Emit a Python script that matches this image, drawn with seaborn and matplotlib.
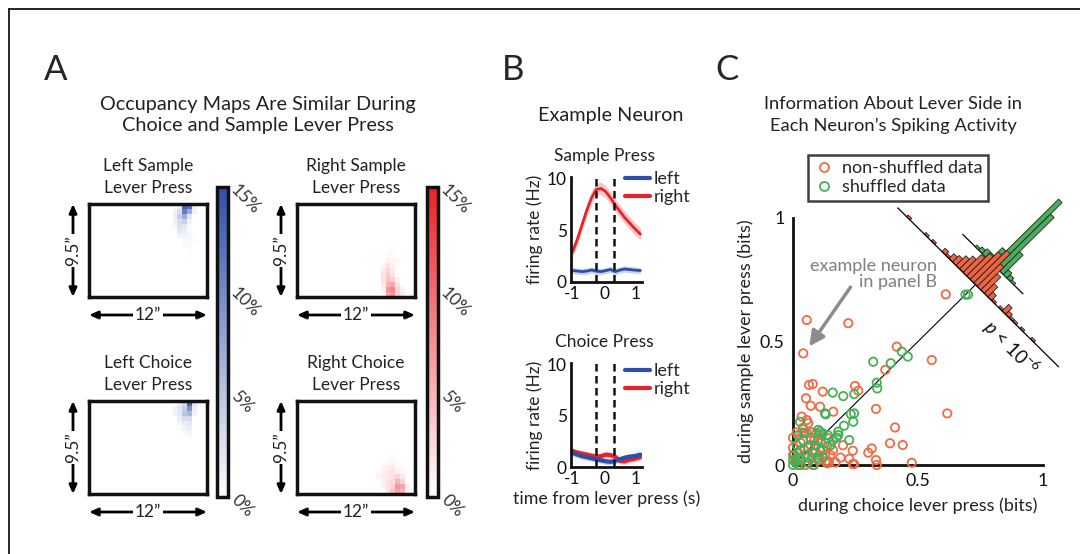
import numpy as np
import matplotlib
matplotlib.use("Agg")
import matplotlib.pyplot as plt
import seaborn as sns
from matplotlib.colors import LinearSegmentedColormap
from matplotlib.lines import Line2D
from matplotlib.transforms import Affine2D

# ---- Panel A: occupancy maps (row, col, % occupancy), grid 19 x 24 ----
n_rows, n_cols = 19, 24
left_sample_cells = [
    (0, 18, 1), (0, 19, 13), (0, 20, 12), (0, 21, 1.5),
    (1, 17, 1), (1, 18, 3), (1, 19, 11), (1, 20, 7), (1, 21, 1),
    (2, 17, 1.5), (2, 18, 4), (2, 19, 7), (2, 20, 2),
    (3, 17, 1), (3, 18, 3), (3, 19, 4), (3, 20, 1),
    (4, 17, 0.8), (4, 18, 2.5), (4, 19, 2), (4, 20, 0.5),
    (5, 18, 2), (5, 19, 1.5), (5, 20, 0.5),
    (6, 18, 1), (6, 19, 1), (6, 20, 0.8),
    (7, 19, 0.5), (7, 20, 0.5), (7, 21, 0.4),
    (8, 19, 0.4), (8, 20, 0.4), (9, 20, 0.3), (10, 20, 0.3),
]
right_sample_cells = [
    (18, 18, 6), (18, 19, 7), (18, 20, 3), (18, 21, 1.5),
    (17, 17, 1), (17, 18, 7), (17, 19, 8), (17, 20, 3), (17, 21, 1),
    (16, 17, 1.5), (16, 18, 5), (16, 19, 6), (16, 20, 2),
    (15, 17, 2), (15, 18, 4), (15, 19, 3), (15, 20, 1),
    (14, 17, 2), (14, 18, 3.5), (14, 19, 2), (14, 20, 0.5),
    (13, 17, 1.5), (13, 18, 3), (13, 19, 1.5),
    (12, 17, 0.8), (12, 18, 2), (12, 19, 1),
    (11, 18, 1), (11, 19, 0.8), (11, 20, 0.5),
    (10, 18, 0.5), (10, 19, 0.5), (9, 19, 0.3),
]
left_choice_cells = [
    (0, 18, 1.5), (0, 19, 3), (0, 20, 13), (0, 21, 2),
    (1, 17, 1), (1, 18, 2), (1, 19, 4), (1, 20, 9), (1, 21, 1.5),
    (2, 17, 1), (2, 18, 2), (2, 19, 5), (2, 20, 6), (2, 21, 1),
    (3, 18, 1.5), (3, 19, 3), (3, 20, 3),
    (4, 18, 1), (4, 19, 1.5), (4, 20, 2),
    (5, 19, 1), (5, 20, 1.5), (6, 19, 0.5), (6, 20, 0.8), (7, 20, 0.4),
]
right_choice_cells = [
    (18, 18, 1.5), (18, 19, 4), (18, 20, 6), (18, 21, 5), (18, 22, 1),
    (17, 17, 1), (17, 18, 2), (17, 19, 3), (17, 20, 7), (17, 21, 6), (17, 22, 1),
    (16, 17, 1), (16, 18, 2), (16, 19, 2.5), (16, 20, 5), (16, 21, 3),
    (15, 16, 0.8), (15, 17, 1), (15, 18, 1.5), (15, 19, 2), (15, 20, 3), (15, 21, 1.5),
    (14, 16, 0.5), (14, 17, 1), (14, 18, 1.5), (14, 19, 2), (14, 20, 1), (14, 21, 0.8), (14, 22, 0.5),
    (13, 17, 0.8), (13, 18, 1), (13, 19, 1.5), (13, 20, 0.5), (13, 21, 0.5),
    (12, 18, 0.5), (12, 19, 0.8), (12, 20, 0.5), (11, 19, 0.4),
]
cbar_ticks = [0, 5, 10, 15]
cbar_labels = ["0%", "5%", "10%", "15%"]

# ---- Panel B: example neuron firing rates ----
t = [-1.0, -0.85, -0.7, -0.55, -0.4, -0.25, -0.1, 0.05, 0.2, 0.35, 0.5, 0.65, 0.8, 0.95, 1.15]
right_sample = [2.9, 4.1, 5.5, 6.9, 8.1, 8.9, 9.0, 8.7, 8.1, 7.4, 6.8, 6.2, 5.7, 5.2, 4.6]
left_sample = [1.1, 1.05, 1.0, 1.05, 1.15, 1.05, 1.0, 1.1, 1.2, 1.0, 1.15, 1.25, 1.2, 1.15, 1.1]
left_choice = [1.35, 1.2, 1.05, 0.95, 0.85, 0.75, 0.65, 0.55, 0.5, 0.6, 0.75, 0.9, 1.0, 1.05, 1.2]
right_choice = [1.55, 1.4, 1.3, 1.2, 1.1, 1.0, 1.05, 1.2, 1.15, 1.0, 0.6, 0.55, 0.7, 0.8, 0.95]
sem_right_sample = 0.6
sem_other = 0.3
event_times = [-0.25, 0.3]

# ---- Panel C: information (bits) ----
red_x = [0.055, 0.041, 0.221, 0.611, 0.415, 0.555, 0.369, 0.248, 0.261, 0.064, 0.079, 0.119,
         0.052, 0.071, 0.108, 0.161, 0.332, 0.617, 0.035, 0.055, 0.408, 0.061,
         0.015, 0.035, 0.055, 0.075, 0.093, 0.388, 0.439, 0.315, 0.301, 0.239, 0.332, 0.335,
         0.475, 0.239, 0.244, 0.144, 0.135, 0.141, 0.128,
         0.01, 0.02, 0.03, 0.0, 0.045, 0.06, 0.07, 0.09, 0.1, 0.11, 0.12, 0.08, 0.05, 0.02,
         0.0, 0.0, 0.15, 0.17, 0.1, 0.04, 0.085, 0.13, 0.16, 0.19, 0.2, 0.225, 0.104, 0.137]
red_y = [0.587, 0.452, 0.574, 0.691, 0.479, 0.425, 0.385, 0.320, 0.301, 0.324, 0.328, 0.297,
         0.270, 0.240, 0.236, 0.216, 0.227, 0.209, 0.196, 0.182, 0.152, 0.169,
         0.132, 0.132, 0.128, 0.132, 0.128, 0.088, 0.081, 0.067, 0.050, 0.058, 0.020, 0.0,
         0.009, 0.004, 0.004, 0.013, 0.074, 0.108, 0.040,
         0.02, 0.05, 0.09, 0.11, 0.06, 0.03, 0.08, 0.05, 0.02, 0.09, 0.06, 0.0, 0.0, 0.0,
         0.04, 0.07, 0.04, 0.01, 0.12, 0.15, 0.1, 0.015, 0.06, 0.03, 0.08, 0.025, 0.04, 0.007]
green_x = [0.69, 0.70, 0.435, 0.459, 0.321, 0.391, 0.335, 0.337, 0.159, 0.201, 0.245, 0.128,
           0.131, 0.231, 0.244, 0.241, 0.204, 0.181, 0.181, 0.175, 0.225, 0.028, 0.101, 0.108,
           0.119, 0.084,
           0.01, 0.02, 0.03, 0.015, 0.04, 0.05, 0.06, 0.07, 0.08, 0.09, 0.1, 0.11, 0.12, 0.13,
           0.14, 0.0, 0.005, 0.03, 0.06, 0.1, 0.15, 0.16, 0.02, 0.045, 0.0, 0.035, 0.075]
green_y = [0.69, 0.69, 0.459, 0.439, 0.418, 0.412, 0.333, 0.310, 0.293, 0.279, 0.287, 0.209,
           0.205, 0.206, 0.209, 0.175, 0.159, 0.135, 0.121, 0.111, 0.101, 0.175, 0.142, 0.135,
           0.128, 0.0,
           0.01, 0.03, 0.06, 0.08, 0.1, 0.04, 0.07, 0.11, 0.05, 0.08, 0.1, 0.06, 0.03, 0.09,
           0.12, 0.0, 0.04, 0.0, 0.01, 0.03, 0.08, 0.1, 0.12, 0.13, 0.02, 0.02, 0.03]

# rotated histograms along the anti-diagonal
hist_bin_centers = [round(k * 0.02, 2) for k in range(-22, 24)]
red_counts = [0, 0, 0, 1, 0, 0, 0, 0, 1, 0, 1, 0, 0, 2, 1, 3, 4, 6, 8, 11, 14, 17, 20,
              14, 10, 6, 3, 1, 0, 1, 4, 2, 1, 1, 0, 1, 0, 0, 1, 0, 0, 0, 0, 0, 0, 0]
green_counts = [0] * 17 + [1, 2, 3, 3, 8, 40, 33, 12, 3, 2, 1] + [0] * 18

blue = "#2f4ea7"
red = "#e8222a"
dot_red = "#f26a44"
dot_green = "#45b058"
hist_red = "#ef6440"
hist_green = "#4cae5c"

sns.set_style("white")
plt.rcParams["font.family"] = ["Lato", "DejaVu Sans"]
plt.rcParams["mathtext.fontset"] = "custom"
plt.rcParams["mathtext.it"] = "Lato:italic"
plt.rcParams["mathtext.rm"] = "Lato"
plt.rcParams["axes.unicode_minus"] = False

W, H = 1080, 554
fig = plt.figure(figsize=(10.8, 5.54), dpi=100)


def box(x0, y0, x1, y1):
    return fig.add_axes([x0 / W, 1 - y1 / H, (x1 - x0) / W, (y1 - y0) / H])


def ftext(x, y, s, **kw):
    fig.text(x / W, 1 - y / H, s, **kw)


# border
fig.add_artist(Line2D([9 / W, 1], [1 - 9 / H] * 2, color="k", lw=1.2))
fig.add_artist(Line2D([9 / W] * 2, [0, 1 - 9 / H], color="k", lw=1.2))

# ================= Panel A =================
cm_blue = LinearSegmentedColormap.from_list("bl", ["#ffffff", blue])
cm_red = LinearSegmentedColormap.from_list("rd", ["#ffffff", red])
cax_blue = box(217, 187, 228, 497)
cax_red = box(427, 187, 438, 497)

panels = [
    (left_sample_cells, cm_blue, (89, 204, 207, 297), cax_blue, "Left Sample\nLever Press"),
    (right_sample_cells, cm_red, (297, 204, 415, 297), cax_red, "Right Sample\nLever Press"),
    (left_choice_cells, cm_blue, (89, 401, 207, 494), None, "Left Choice\nLever Press"),
    (right_choice_cells, cm_red, (297, 401, 415, 494), None, "Right Choice\nLever Press"),
]
for cells, cmap, (x0, y0, x1, y1), cax, title in panels:
    grid = np.zeros((n_rows, n_cols))
    for r, c, v in cells:
        grid[r, c] = v
    ax = box(x0, y0, x1, y1)
    sns.heatmap(grid, ax=ax, cmap=cmap, vmin=0, vmax=15, cbar=cax is not None,
                cbar_ax=cax, xticklabels=False, yticklabels=False)
    for s in ax.spines.values():
        s.set_visible(True)
        s.set_linewidth(2.5)
        s.set_color("#111111")
    ax.set_xticks([])
    ax.set_yticks([])
    if cax is not None:
        cb = ax.collections[0].colorbar
        cb.outline.set_linewidth(2.5)
        cb.outline.set_edgecolor("#111111")
        cax.set_yticks(cbar_ticks)
        cax.set_yticklabels(cbar_labels, rotation=-45, rotation_mode="anchor",
                            ha="left", va="center", fontsize=12.5, color="#333333")
        cax.tick_params(axis="y", direction="in", length=3, width=1.5, pad=4)
    cx = (x0 + x1) / 2
    ftext(cx, y0 - 27, title, ha="center", va="center", fontsize=12.5,
          linespacing=1.45, color="#222222")

# overlay in pixel coordinates for dimension arrows
ov = fig.add_axes([0, 0, 1, 1])
ov.set_xlim(0, W)
ov.set_ylim(H, 0)
ov.axis("off")
arrow_kw = dict(arrowstyle="<|-|>,head_length=0.5,head_width=0.22", color="k", lw=2,
                shrinkA=0, shrinkB=0)
for (x0, y0, x1, y1) in [(89, 204, 207, 297), (297, 204, 415, 297),
                         (89, 401, 207, 494), (297, 401, 415, 494)]:
    ov.annotate("", xy=(x0 - 16, y0), xytext=(x0 - 16, y1), arrowprops=arrow_kw)
    ov.text(x0 - 16, (y0 + y1) / 2, "9.5\u201d", rotation=90, ha="center", va="center",
            fontsize=12.5, color="#222222",
            bbox=dict(fc="white", ec="none", pad=1))
    ov.annotate("", xy=(x0, y1 + 18), xytext=(x1, y1 + 18), arrowprops=arrow_kw)
    ov.text((x0 + x1) / 2, y1 + 18, "12\u201d", ha="center", va="center",
            fontsize=12.5, color="#222222",
            bbox=dict(fc="white", ec="none", pad=1))

ftext(56, 70, "A", ha="center", va="center", fontsize=25)
ftext(258, 115, "Occupancy Maps Are Similar During\nChoice and Sample Lever Press",
      ha="center", va="center", fontsize=14.3, linespacing=1.32, color="#222222")

# ================= Panel B =================
axb1 = box(571, 177, 642, 282)
axb2 = box(571, 363, 642, 467)
for ax, lft, rgt, sem_r in [(axb1, left_sample, right_sample, sem_right_sample),
                            (axb2, left_choice, right_choice, sem_other)]:
    lft = np.array(lft)
    rgt = np.array(rgt)
    lw = 2 if ax is axb1 else 3
    ax.fill_between(t, lft - sem_other, lft + sem_other, color=blue, alpha=0.25, lw=0)
    ax.fill_between(t, rgt - sem_r, rgt + sem_r, color=red, alpha=0.25, lw=0)
    if ax is axb1:
        ax.plot(t, lft, color=blue, lw=lw)
        ax.plot(t, rgt, color=red, lw=lw)
    else:
        ax.plot(t, rgt, color=red, lw=lw)
        ax.plot(t, lft, color=blue, lw=lw)
    for et in event_times:
        ax.axvline(et, color="#111111", lw=1.8, ls=(0, (3, 1.8)))
    ax.set_xlim(-1.05, 1.2)
    ax.set_ylim(0, 10.1)
    ax.set_xticks([-1, 0, 1])
    ax.set_yticks([0, 5, 10])
    ax.set_xticklabels(["-1", "0", "1"])
    sns.despine(ax=ax)
    for s in ["left", "bottom"]:
        ax.spines[s].set_linewidth(2)
        ax.spines[s].set_color("#111111")
    ax.tick_params(direction="in", length=3, width=1.5, labelsize=12.5,
                   colors="#111111", pad=3)
    ax.set_facecolor("none")
    ax.set_ylabel("firing rate (Hz)", fontsize=12.5, labelpad=3, color="#222222")
    handles = [Line2D([], [], color=blue, lw=3), Line2D([], [], color=red, lw=3)]
    top = 171 if ax is axb1 else 363
    ax.legend(handles, ["left", "right"], loc="upper left",
              bbox_to_anchor=(625 / W, 1 - top / H), bbox_transform=fig.transFigure,
              frameon=False, fontsize=13, handlelength=1.4, handletextpad=0.2,
              labelspacing=0.12, borderpad=0, borderaxespad=0)

axb2.set_xlabel("time from lever press (s)", fontsize=12.8, labelpad=2, color="#222222")
ftext(513, 70, "B", ha="center", va="center", fontsize=25)
ftext(611, 115, "Example Neuron", ha="center", va="center", fontsize=14.3, color="#222222")
ftext(604, 156, "Sample Press", ha="center", va="center", fontsize=12.5, color="#222222")
ftext(604, 342, "Choice Press", ha="center", va="center", fontsize=12.5, color="#222222")

# ================= Panel C =================
axc = box(793, 218, 1043, 465)
axc.set_facecolor("none")
axc.scatter(red_x, red_y, s=36, facecolors="none", edgecolors=dot_red, linewidths=1.3,
            clip_on=False, zorder=3)
axc.scatter(green_x, green_y, s=36, facecolors="none", edgecolors=dot_green,
            linewidths=1.3, clip_on=False, zorder=3)

cross = 0.73
axc.plot([0, cross], [0, cross], color="k", lw=0.8, zorder=2)
rot = Affine2D().rotate_deg(-45).translate(cross, cross) + axc.transData
count_scale = 0.0093
green_base = 0.108
green_u = [u for u, c in zip(hist_bin_centers, green_counts) if c > 0]
green_h = [c * count_scale for c in green_counts if c > 0]
red_u = [u for u, c in zip(hist_bin_centers, red_counts) if c > 0]
red_h = [c * count_scale for c in red_counts if c > 0]
axc.plot([-0.18, 0.16], [green_base, green_base], color="k", lw=0.9, transform=rot,
         clip_on=False, zorder=2)
axc.bar(green_u, green_h, width=0.02, bottom=green_base, color=hist_green,
        edgecolor="#222222", linewidth=0.6, transform=rot, clip_on=False, zorder=4)
axc.bar(red_u, red_h, width=0.02, bottom=0, color=hist_red, edgecolor="#222222",
        linewidth=0.6, transform=rot, clip_on=False, zorder=5)
axc.plot([-0.44, 0.47], [0, 0], color="k", lw=0.9, transform=rot, clip_on=False, zorder=6)

axc.text(0.87, 0.475, r"$p$ < 10$^{-6}$", rotation=-45, rotation_mode="anchor",
         ha="center", va="center", fontsize=13.5, color="#111111")
axc.text(0.575, 0.775, "example neuron\nin panel B", ha="right", va="center",
         fontsize=13, color="#7f7f7f", linespacing=1.0)
axc.annotate("", xy=(0.065, 0.48), xytext=(0.23, 0.72),
             arrowprops=dict(arrowstyle="-|>,head_length=0.9,head_width=0.45",
                             color="#8c8c8c", lw=2.5, shrinkA=0, shrinkB=0))

axc.set_xlim(0, 1)
axc.set_ylim(0, 1)
axc.set_xticks([0, 0.5, 1])
axc.set_yticks([0, 0.5, 1])
axc.set_xticklabels(["0", "0.5", "1"])
axc.set_yticklabels(["0", "0.5", "1"])
sns.despine(ax=axc)
for s in ["left", "bottom"]:
    axc.spines[s].set_linewidth(2)
    axc.spines[s].set_color("#111111")
axc.tick_params(direction="in", length=4, width=1.5, labelsize=12.8, colors="#111111", pad=6)
axc.set_xlabel("during choice lever press (bits)", fontsize=13, labelpad=6, color="#222222")
axc.set_ylabel("during sample lever press (bits)", fontsize=13, labelpad=4, color="#222222")

leg_handles = [Line2D([], [], marker="o", ls="", mfc="none", mec=dot_red, mew=1.3, ms=6.5),
               Line2D([], [], marker="o", ls="", mfc="none", mec=dot_green, mew=1.3, ms=6.5)]
leg = fig.legend(leg_handles, ["non-shuffled data", "shuffled data"], loc="upper left",
                 bbox_to_anchor=(808 / W, 1 - 155 / H), frameon=True, fancybox=False,
                 edgecolor="#111111", fontsize=13, handletextpad=0.4, labelspacing=0.15,
                 borderpad=0.3, handlelength=1.2, borderaxespad=0)
leg.get_frame().set_linewidth(1.8)

ftext(727, 70, "C", ha="center", va="center", fontsize=25)
ftext(893, 115, "Information About Lever Side in\nEach Neuron\u2019s Spiking Activity",
      ha="center", va="center", fontsize=13.2, linespacing=1.38, color="#222222")

fig.savefig("out.png", dpi=100)
